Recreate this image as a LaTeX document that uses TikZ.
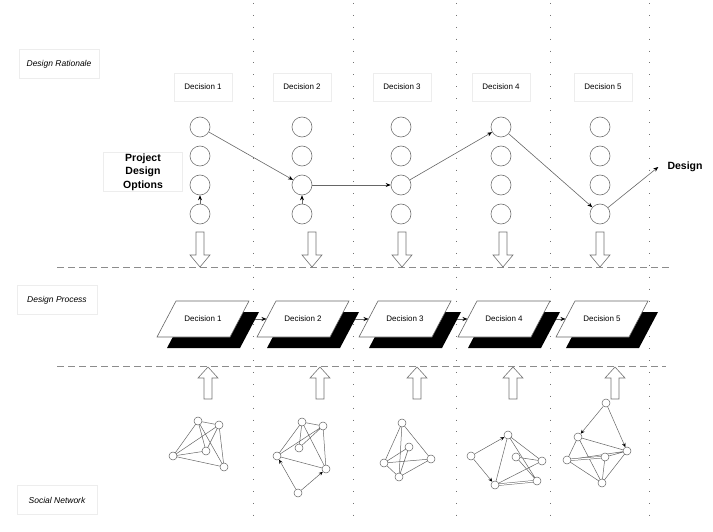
\documentclass[tikz,border=0pt]{standalone}
\usepackage{fontspec}
\setmainfont{Liberation Sans}
\usetikzlibrary{arrows.meta}
\begin{document}
\begin{tikzpicture}[x=1pt,y=-1pt,
  opt/.style={circle, draw=black!55, line width=0.6pt, minimum size=20pt, inner sep=0pt},
  lbl/.style={draw=black!7, line width=0.5pt, font=\fontsize{8}{9}\selectfont, minimum width=58pt, minimum height=28pt, inner sep=1pt},
  sidelbl/.style={draw=black!7, line width=0.5pt, font=\fontsize{8.5}{10}\selectfont\itshape, minimum width=80pt, minimum height=29pt, inner sep=1pt},
  link/.style={draw=black!60, line width=0.6pt, -{Stealth[length=5pt,width=4pt,black]}},
  nlink/.style={draw=black!60, line width=0.5pt, -{Stealth[length=4pt,width=3.5pt,black]}},
  nn/.style={circle, draw=black!60, fill=white, minimum size=8pt, inner sep=0pt, line width=0.5pt},
  net/.style={draw=black!60, line width=0.5pt},
  hollow/.style={draw=black!55, fill=white, line width=0.6pt},
  vsep/.style={draw=black!55, line width=0.9pt, dash pattern=on 0.9pt off 11pt},
  hsep/.style={draw=black!45, line width=0.8pt, dash pattern=on 7pt off 4pt},
  ptext/.style={font=\fontsize{8}{9}\selectfont, inner sep=1pt}
]
\useasboundingbox (0,0) rectangle (713,532);

% vertical dotted separators
\foreach \x in {253,353,456,550,649}
  \draw[vsep] (\x,3) -- (\x,526);
% horizontal dashed separators
\draw[hsep] (57,267) -- (672,267);
\draw[hsep] (57,366) -- (666,366);

% side labels
\node[sidelbl] (rat) at (59,64) {Design Rationale};
\node[sidelbl] (proc) at (57,300) {Design Process};
\node[sidelbl] (soc) at (57,500) {Social Network};

% decision labels
\node[lbl] (L1) at (203,87) {Decision 1};
\node[lbl] (L2) at (302,87) {Decision 2};
\node[lbl] (L3) at (402,87) {Decision 3};
\node[lbl] (L4) at (501,87) {Decision 4};
\node[lbl] (L5) at (603,87) {Decision 5};

\node[draw=black!7, line width=0.5pt, minimum width=79pt, minimum height=37pt, align=center,
      font=\fontsize{10.5}{13.5}\selectfont\bfseries, inner sep=1pt] (pdo) at (143,172) {Project\\Design\\Options};

% option circles
\foreach \c/\x in {1/200,2/302,3/401,4/501,5/600}
  \foreach \r/\y in {1/127,2/156,3/185,4/214}
    \node[opt] (c\c\r) at (\x,\y) {};

\node[font=\fontsize{10.5}{12}\selectfont\bfseries, inner sep=1pt] (design) at (685,167) {Design};

% decision path
\draw[link] (c11) -- (c23);
\draw[link] (c14) -- (c13);
\draw[link] (c24) -- (c23);
\draw[link] (c23) -- (c33);
\draw[link] (c33) -- (c41);
\draw[link] (c41) -- (c54);
\draw[link] (c54) -- ([xshift=-8pt]design.west);

% hollow down arrows
\foreach \x in {200,312,402,503,600}
  \draw[hollow] (\x-4,232) -- (\x+4,232) -- (\x+4,255) -- (\x+10,255) -- (\x,267) -- (\x-10,255) -- (\x-4,255) -- cycle;

% process boxes
\foreach \i/\cx in {1/203,2/303,3/405,4/504,5/602} {
  \fill[black] (\cx-17,312) -- (\cx+56,312) -- (\cx+37,348) -- (\cx-36,348) -- cycle;
  \draw[fill=white, draw=black!60, line width=0.6pt] (\cx-27,301) -- (\cx+46,301) -- (\cx+27,337) -- (\cx-46,337) -- cycle;
  \node[ptext] (P\i) at (\cx,319) {Decision \i};
  \coordinate (sR\i) at (\cx+52,319);
  \coordinate (mL\i) at (\cx-36.5,319);
}
\draw[link] (sR1) -- (mL2);
\draw[link] (sR2) -- (mL3);
\draw[link] (sR3) -- (mL4);
\draw[link] (sR4) -- (mL5);

% hollow up arrows
\foreach \x in {208,320,417,513,615}
  \draw[hollow] (\x,367) -- (\x+10,378) -- (\x+4,378) -- (\x+4,399) -- (\x-4,399) -- (\x-4,378) -- (\x-10,378) -- cycle;

% network 1
\coordinate (a1) at (198,421); \coordinate (b1) at (219,425); \coordinate (c1) at (173,456);
\coordinate (d1) at (206,451); \coordinate (e1) at (224,467);
\draw[net] (a1) -- (b1) (a1) -- (c1) (a1) -- (e1) (b1) -- (c1) (b1) -- (e1) (c1) -- (d1) (c1) -- (e1) (b1) -- (d1) (a1) -- (d1);
\foreach \n in {a1,b1,c1,d1,e1} \node[nn] (N\n) at (\n) {};

% network 2
\coordinate (a2) at (302,422); \coordinate (b2) at (323,426); \coordinate (c2) at (277,456);
\coordinate (d2) at (299,448); \coordinate (e2) at (326,469); \coordinate (f2) at (298,493);
\draw[net] (a2) -- (b2) (a2) -- (c2) (b2) -- (c2) (a2) -- (e2) (b2) -- (e2) (c2) -- (e2) (d2) -- (b2) (d2) -- (a2);
\foreach \n in {a2,b2,c2,d2,e2,f2} \node[nn] (N\n) at (\n) {};
\draw[nlink] (Nf2) -- (Nc2);
\draw[nlink] (Nf2) -- (Ne2);

% network 3
\coordinate (a3) at (402,423); \coordinate (b3) at (409,447); \coordinate (c3) at (384,463);
\coordinate (r3) at (431,459); \coordinate (e3) at (399,477);
\draw[net] (a3) -- (c3) (a3) -- (r3) (a3) -- (e3) (c3) -- (r3) (c3) -- (e3) (e3) -- (r3) (b3) -- (c3) (b3) -- (e3);
\foreach \n in {a3,b3,c3,r3,e3} \node[nn] (N\n) at (\n) {};

% network 4
\coordinate (l4) at (471,456); \coordinate (t4) at (508,435); \coordinate (m4) at (516,457);
\coordinate (r4) at (542,461); \coordinate (br4) at (537,481); \coordinate (bl4) at (495,485);
\draw[net] (t4) -- (bl4) (t4) -- (r4) (t4) -- (br4) (bl4) -- (r4) (m4) -- (r4) (m4) -- (br4);
\draw[net, double=white, double distance=1.2pt] (bl4) -- (br4);
\foreach \n in {l4,t4,m4,r4,br4,bl4} \node[nn] (N\n) at (\n) {};
\draw[nlink] (Nl4) -- (Nt4);
\draw[nlink] (Nl4) -- (Nbl4);

% network 5
\coordinate (t5) at (606,403); \coordinate (ul5) at (578,437); \coordinate (r5) at (627,451);
\coordinate (l5) at (567,460); \coordinate (m5) at (605,457); \coordinate (b5) at (602,483);
\draw[net] (ul5) -- (r5) (ul5) -- (l5) (ul5) -- (b5) (l5) -- (r5) (m5) -- (r5) (l5) -- (b5) (r5) -- (b5) (m5) -- (b5);
\draw[net, double=white, double distance=1.2pt] (l5) -- (m5);
\foreach \n in {t5,ul5,r5,l5,m5,b5} \node[nn] (N\n) at (\n) {};
\draw[nlink] (Nt5) -- (Nul5);
\draw[nlink] (Nt5) -- (Nr5);
\end{tikzpicture}
\end{document}
